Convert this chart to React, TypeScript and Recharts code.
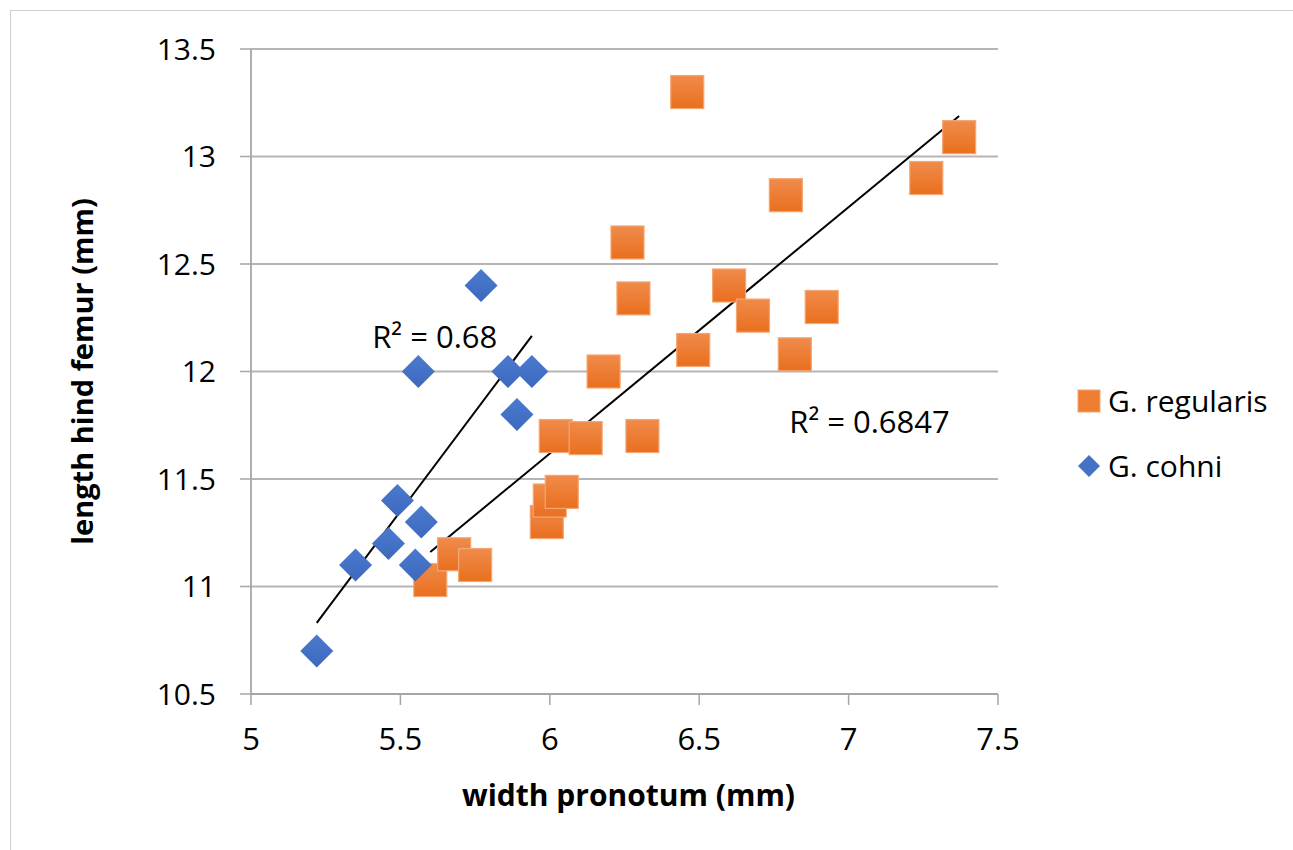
// Streudiagramm: Femurlänge gegen Pronotumbreite, zwei Arten mit Trendlinien
import {
  ScatterChart,
  Scatter,
  XAxis,
  YAxis,
  CartesianGrid,
  Legend,
  ReferenceLine,
  ReferenceDot,
} from 'recharts';

// G. regularis (orange Quadrate)
const REGULARIS_X = [5.6, 5.68, 5.75, 5.99, 6.0, 6.04, 6.02, 6.12, 6.31, 6.18, 6.48, 6.28, 6.26, 6.46, 6.6, 6.68, 6.91, 6.82, 6.79, 7.26, 7.37];
const REGULARIS_Y = [11.03, 11.15, 11.1, 11.3, 11.4, 11.44, 11.7, 11.69, 11.7, 12.0, 12.1, 12.34, 12.6, 13.3, 12.4, 12.26, 12.3, 12.08, 12.82, 12.9, 13.09];

// G. cohni (blaue Rauten)
const COHNI_X = [5.22, 5.35, 5.46, 5.49, 5.55, 5.57, 5.56, 5.77, 5.86, 5.89, 5.94];
const COHNI_Y = [10.7, 11.1, 11.2, 11.4, 11.1, 11.3, 12.0, 12.4, 12.0, 11.8, 12.0];

const X_TICKS = [5, 5.5, 6, 6.5, 7, 7.5];
const Y_TICKS = [10.5, 11, 11.5, 12, 12.5, 13, 13.5];

const SERIES_NAMES = ['G. regularis', 'G. cohni'];
const R2_TEXT = ['R² = 0.6847', 'R² = 0.68'];

const FONT = '"Open Sans", "Noto Sans", sans-serif';
const ORANGE = '#ED7D31';
const BLUE = '#4472C4';

const toPoints = (xs: number[], ys: number[]) => xs.map((x, i) => ({ x, y: ys[i] }));

// lineare Regression wie die Excel-Trendlinie (von min x bis max x)
function trend(xs: number[], ys: number[]) {
  const n = xs.length;
  const mx = xs.reduce((a, b) => a + b, 0) / n;
  const my = ys.reduce((a, b) => a + b, 0) / n;
  let sxy = 0;
  let sxx = 0;
  xs.forEach((x, i) => {
    sxy += (x - mx) * (ys[i] - my);
    sxx += (x - mx) * (x - mx);
  });
  const slope = sxy / sxx;
  const x0 = Math.min(...xs);
  const x1 = Math.max(...xs);
  return [
    { x: x0, y: my + slope * (x0 - mx) },
    { x: x1, y: my + slope * (x1 - mx) },
  ];
}

const regularisData = toPoints(REGULARIS_X, REGULARIS_Y);
const cohniData = toPoints(COHNI_X, COHNI_Y);
const regularisTrend = trend(REGULARIS_X, REGULARIS_Y);
const cohniTrend = trend(COHNI_X, COHNI_Y);

function SquareShape(props: any) {
  const { cx, cy } = props;
  const s = 33;
  return (
    <rect x={cx - s / 2} y={cy - s / 2} width={s} height={s} fill="url(#gradOrange)" stroke="#F4A673" strokeWidth={1.2} />
  );
}

function DiamondShape(props: any) {
  const { cx, cy } = props;
  const r = 16.5;
  return (
    <polygon
      points={`${cx},${cy - r} ${cx + r},${cy} ${cx},${cy + r} ${cx - r},${cy}`}
      fill="url(#gradBlue)"
    />
  );
}

function renderLegend() {
  return (
    <div style={{ fontFamily: FONT, fontSize: 30, color: '#000' }}>
      {SERIES_NAMES.map((name, i) => (
        <div key={name} style={{ display: 'flex', alignItems: 'center', height: 65 }}>
          <svg width={24} height={24} style={{ flex: 'none' }}>
            {i === 0 ? (
              <rect x={1} y={1} width={22} height={22} fill={ORANGE} stroke="#F4A673" />
            ) : (
              <polygon points="12,1 23,12 12,23 1,12" fill={BLUE} />
            )}
          </svg>
          <span style={{ marginLeft: 7, lineHeight: 1 }}>{name}</span>
        </div>
      ))}
    </div>
  );
}

export default function App() {
  return (
    <div style={{ position: 'absolute', left: 0, top: 0, width: 1293, height: 850, background: '#fff', overflow: 'hidden' }}>
      <div style={{ position: 'absolute', left: 10, top: 10, width: 1300, height: 860, border: '1px solid #cfcfcf' }} />
      <ScatterChart width={1293} height={850} margin={{ top: 49, right: 295, bottom: 96, left: 171 }}>
        <defs>
          <linearGradient id="gradOrange" x1="0" y1="0" x2="0" y2="1">
            <stop offset="0%" stopColor="#F08B4B" />
            <stop offset="100%" stopColor="#E96F1E" />
          </linearGradient>
          <linearGradient id="gradBlue" x1="0" y1="0" x2="0" y2="1">
            <stop offset="0%" stopColor="#4A7AD0" />
            <stop offset="100%" stopColor="#3D69BC" />
          </linearGradient>
        </defs>
        <CartesianGrid vertical={false} stroke="#b5b5b5" strokeWidth={1.8} />
        <XAxis
          type="number"
          dataKey="x"
          domain={[5, 7.5]}
          ticks={X_TICKS}
          height={60}
          tickSize={11}
          tickMargin={23}
          axisLine={{ stroke: '#a6a6a6', strokeWidth: 1.8 }}
          tickLine={{ stroke: '#a6a6a6', strokeWidth: 1.5 }}
          tick={{ fontSize: 31, fill: '#000', fontFamily: FONT }}
          label={{
            content: (p: any) => (
              <text
                x={p.viewBox.x + p.viewBox.width / 2 + 4}
                y={p.viewBox.y + 112}
                textAnchor="middle"
                fontFamily={FONT}
                fontWeight="bold"
                fontSize={30}
                fill="#000"
              >
                width pronotum (mm)
              </text>
            ),
          }}
        />
        <YAxis
          type="number"
          dataKey="y"
          domain={[10.5, 13.5]}
          ticks={Y_TICKS}
          width={80}
          tickSize={11}
          tickMargin={24}
          axisLine={{ stroke: '#a6a6a6', strokeWidth: 1.8 }}
          tickLine={{ stroke: '#a6a6a6', strokeWidth: 1.5 }}
          tick={{ fontSize: 30, fill: '#000', fontFamily: FONT }}
          label={{
            content: (p: any) => {
              const cx = 81;
              const cy = p.viewBox.y + p.viewBox.height / 2;
              return (
                <text
                  x={cx}
                  y={cy}
                  transform={`rotate(-90, ${cx}, ${cy})`}
                  textAnchor="middle"
                  dominantBaseline="central"
                  fontFamily={FONT}
                  fontWeight="bold"
                  fontSize={29}
                  fill="#000"
                >
                  length hind femur (mm)
                </text>
              );
            },
          }}
        />
        <Legend
          layout="horizontal"
          verticalAlign="middle"
          align="center"
          width={215}
          content={renderLegend}
          wrapperStyle={{ left: 1077, top: 368 }}
        />
        <Scatter name={SERIES_NAMES[0]} data={regularisData} shape={SquareShape} isAnimationActive={false} />
        <Scatter name={SERIES_NAMES[1]} data={cohniData} shape={DiamondShape} isAnimationActive={false} />
        <ReferenceLine segment={regularisTrend} stroke="#000" strokeWidth={2} ifOverflow="visible" />
        <ReferenceLine segment={cohniTrend} stroke="#000" strokeWidth={2} ifOverflow="visible" />
        <ReferenceDot
          x={7.07}
          y={11.765}
          r={0}
          fill="none"
          stroke="none"
          label={{ value: R2_TEXT[0], position: 'center', fill: '#000', fontSize: 31, fontFamily: FONT }}
        />
        <ReferenceDot
          x={5.615}
          y={12.16}
          r={0}
          fill="none"
          stroke="none"
          label={{ value: R2_TEXT[1], position: 'center', fill: '#000', fontSize: 31, fontFamily: FONT }}
        />
      </ScatterChart>
    </div>
  );
}
